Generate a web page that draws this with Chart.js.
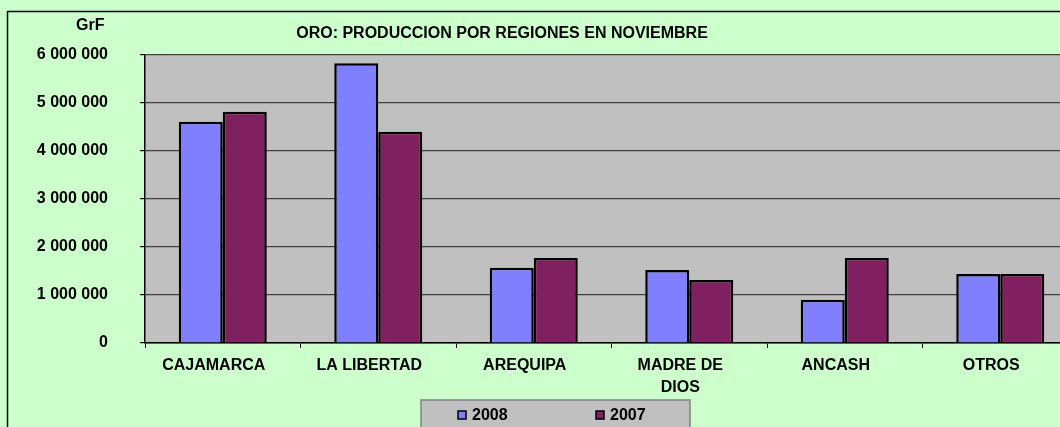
<!DOCTYPE html>
<html>
<head>
<meta charset="utf-8">
<script src="https://cdn.jsdelivr.net/npm/chart.js@4/dist/chart.umd.min.js"></script>
<style>
  html, body { margin: 0; padding: 0; overflow: hidden; background: #ccffcc; }
  #wrap { width: 1060px; height: 427px; overflow: hidden; }
</style>
</head>
<body>
<div id="wrap"><canvas id="myChart" width="1085" height="427"></canvas></div>
<script>
// data
const regiones = ['CAJAMARCA', 'LA LIBERTAD', 'AREQUIPA', ['MADRE DE', 'DIOS'], 'ANCASH', 'OTROS'];
const prod2008 = [4610000, 5830000, 1570000, 1520000, 900000, 1440000];
const prod2007 = [4820000, 4400000, 1770000, 1310000, 1770000, 1440000];
const yTicks = [0, 1000000, 2000000, 3000000, 4000000, 5000000, 6000000];

const titulo = 'ORO: PRODUCCION POR REGIONES EN NOVIEMBRE';
const unidad = 'GrF';
const boldFont = 'bold 16px "Liberation Sans", Arial, sans-serif';

function fmt(v) {
  return v.toLocaleString('en-US').replace(/,/g, ' ');
}

const excelLook = {
  id: 'excelLook',
  beforeDraw(chart) {
    const ctx = chart.ctx;
    const a = chart.chartArea;
    ctx.save();
    ctx.fillStyle = '#ccffcc';
    ctx.fillRect(0, 0, chart.width, chart.height);
    ctx.strokeStyle = '#000';
    ctx.lineWidth = 1.5;
    ctx.strokeRect(7.5, 11.5, chart.width + 20, chart.height + 20);
    ctx.fillStyle = '#c0c0c0';
    ctx.fillRect(a.left, a.top, a.right - a.left, a.bottom - a.top);
    ctx.restore();
  },
  afterDraw(chart) {
    const ctx = chart.ctx;
    ctx.save();
    ctx.fillStyle = '#000';
    ctx.font = boldFont;
    ctx.textBaseline = 'middle';
    ctx.textAlign = 'left';
    ctx.fillText(unidad, 76, 26);
    ctx.textAlign = 'center';
    ctx.fillText(titulo, 502, 34);

    // legend box
    const lx = 421, ly = 400, lw = 269, lh = 40;
    ctx.fillStyle = '#c0c0c0';
    ctx.fillRect(lx, ly, lw, lh);
    ctx.strokeStyle = '#808080';
    ctx.lineWidth = 1.5;
    ctx.strokeRect(lx, ly, lw, lh);
    const itemX = [458, 596];
    chart.data.datasets.forEach((ds, i) => {
      ctx.fillStyle = ds.backgroundColor;
      ctx.fillRect(itemX[i], 411, 8, 8);
      ctx.strokeStyle = '#000';
      ctx.lineWidth = 1.5;
      ctx.strokeRect(itemX[i], 411, 8, 8);
      ctx.fillStyle = '#000';
      ctx.textAlign = 'left';
      ctx.fillText(ds.label, itemX[i] + 14, 416);
    });
    ctx.restore();
  }
};

const ctx1 = document.getElementById('myChart').getContext('2d');
const oroChart = new Chart(ctx1, {
  type: 'bar',
  data: {
    labels: regiones,
    datasets: [{
      label: '2008',
      data: prod2008,
      backgroundColor: '#8080ff',
      borderColor: '#000',
      borderWidth: 2.5
    }, {
      label: '2007',
      data: prod2007,
      backgroundColor: '#802060',
      borderColor: '#000',
      borderWidth: 2.5
    }]
  },
  options: {
    responsive: false,
    animation: false,
    categoryPercentage: 0.566,
    barPercentage: 1,
    layout: {
      padding: { left: 0, top: 55, right: 7, bottom: 0 }
    },
    plugins: {
      legend: { display: false },
      title: { display: false },
      tooltip: { enabled: false }
    },
    scales: {
      x: {
        afterFit(scale) { scale.height = 84; },
        grid: {
          offset: true,
          drawOnChartArea: false,
          drawTicks: true,
          tickLength: 5,
          color: '#000'
        },
        border: { color: '#000', width: 1.5 },
        ticks: {
          color: '#000',
          padding: 6,
          labelOffset: -9,
          maxRotation: 0,
          autoSkip: false,
          font: { family: '"Liberation Sans", Arial, sans-serif', size: 16, weight: 'bold', lineHeight: 1.4 }
        }
      },
      y: {
        min: 0,
        max: 6000000,
        afterFit(scale) { scale.width = 145; },
        afterBuildTicks(scale) {
          scale.ticks = yTicks.map(v => ({ value: v }));
        },
        grid: {
          color: '#404040',
          tickColor: '#000',
          tickLength: 5,
          lineWidth: 1.2
        },
        border: { color: '#000', width: 1.5 },
        ticks: {
          color: '#000',
          padding: 32,
          callback: v => fmt(v),
          font: { family: '"Liberation Sans", Arial, sans-serif', size: 16, weight: 'bold' }
        }
      }
    }
  },
  plugins: [excelLook]
});
</script>
</body>
</html>
